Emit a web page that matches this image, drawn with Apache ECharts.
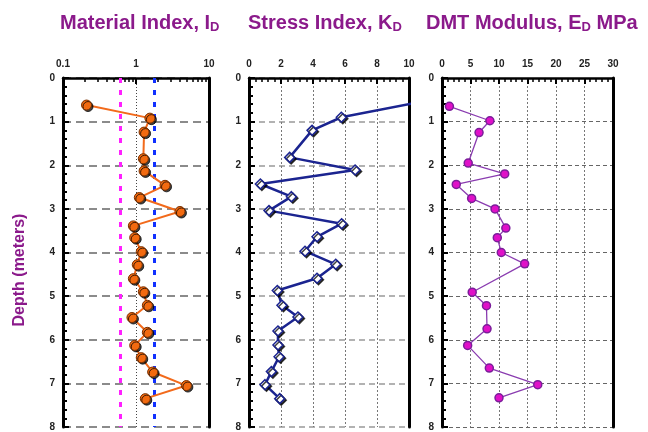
<!DOCTYPE html>
<html><head><meta charset="utf-8">
<script src="https://cdn.jsdelivr.net/npm/echarts@6/dist/echarts.min.js"></script>
<style>html,body{margin:0;padding:0;background:#fff}#c{width:648px;height:432px}</style>
</head><body><div id="c"></div>
<script>
// Material Index I_D
const idDepth = [0.62,0.92,1.24,1.85,2.13,2.46,2.74,3.06,3.39,3.66,3.98,4.28,4.60,4.90,5.21,5.49,5.83,6.13,6.41,6.74,7.05,7.35];
const idVals  = [0.21,1.55,1.29,1.26,1.29,2.5,1.11,4.0,0.92,0.96,1.18,1.04,0.92,1.26,1.43,0.88,1.43,0.96,1.18,1.69,4.9,1.34];
const idRefLines = [0.6, 1.8];
// Stress Index K_D
const kdDepth = [0.58,0.90,1.20,1.82,2.11,2.43,2.72,3.04,3.34,3.64,3.97,4.27,4.59,4.87,5.21,5.48,5.80,6.12,6.39,6.73,7.03,7.35];
const kdVals  = [10.3,5.77,3.94,2.54,6.63,0.71,2.65,1.25,5.79,4.25,3.5,5.42,4.25,1.77,2.06,3.06,1.81,1.81,1.88,1.4,1.0,1.92];
// DMT Modulus E_D (MPa)
const edDepth = [0.65,0.98,1.25,1.95,2.2,2.44,2.76,3.0,3.44,3.66,4.0,4.26,4.91,5.22,5.75,6.13,6.65,7.03,7.33];
const edVals  = [1.3,8.4,6.5,4.6,11.0,2.5,5.2,9.3,11.2,9.7,10.4,14.5,5.3,7.8,7.9,4.5,8.3,16.8,10.0];

const FONT = 'Liberation Sans, Arial, sans-serif';
const PURPLE = '#8B1A8B';
const pair = (xs, ys) => xs.map((v, i) => [v, ys[i]]);

const chart = echarts.init(document.getElementById('c'), null, {renderer: 'canvas'});

const grids = [
  {left: 63, top: 78, width: 146, height: 352},
  {left: 249, top: 78, width: 160, height: 352},
  {left: 442, top: 78, width: 171, height: 352}
];

function xAxisBase(idx, extra) {
  return Object.assign({
    gridIndex: idx, position: 'top',
    axisLine: {show: true, onZero: false, lineStyle: {color: '#000', width: 2.5}},
    axisTick: {show: true, inside: true, length: 6, lineStyle: {color: '#000', width: 2}},
    minorTick: {show: true, splitNumber: 5, length: 4, lineStyle: {color: '#000', width: 1.5}},
    axisLabel: {color: '#222', fontFamily: FONT, fontWeight: 'bold', fontSize: 10, margin: 9},
    splitLine: {show: true, lineStyle: {color: '#777', type: [2, 2], width: 1}}
  }, extra);
}
function yAxisLeft(idx, hSplit) {
  return {
    gridIndex: idx, type: 'value', min: 0, max: 8, interval: 1, inverse: true,
    axisLine: {show: true, onZero: false, lineStyle: {color: '#000', width: 3}},
    axisTick: {show: true, inside: true, length: 6, lineStyle: {color: '#000', width: 2}},
    minorTick: {show: true, splitNumber: 5, length: 4, lineStyle: {color: '#000', width: 2}},
    axisLabel: {color: '#222', fontFamily: FONT, fontWeight: 'bold', fontSize: 10, margin: 8},
    splitLine: {show: true, lineStyle: hSplit}
  };
}
function yAxisRight(idx) {
  return {
    gridIndex: idx, type: 'value', min: 0, max: 8, inverse: true, position: 'right',
    axisLine: {show: true, onZero: false, lineStyle: {color: '#000', width: 3}},
    axisTick: {show: false}, axisLabel: {show: false}, splitLine: {show: false}
  };
}
const titleRich = {
  a: {fontSize: 20, fontWeight: 'bold', color: PURPLE, fontFamily: FONT},
  s: {fontSize: 13, fontWeight: 'bold', color: PURPLE, fontFamily: FONT, padding: [9, 0, 0, 0]}
};

const option = {
  animation: false,
  backgroundColor: '#fff',
  textStyle: {fontFamily: FONT},
  title: [
    {left: 55, top: 7, text: '{a|Material Index, I}{s|D}', textStyle: {rich: titleRich}},
    {left: 243, top: 7, text: '{a|Stress Index, K}{s|D}', textStyle: {rich: titleRich}},
    {left: 421, top: 7, text: '{a|DMT Modulus, E}{s|D}{a| MPa}', textStyle: {rich: titleRich}}
  ],
  graphic: [
    {type: 'text', x: 20, y: 270, rotation: Math.PI / 2,
      style: {text: 'Depth (meters)', fill: PURPLE, font: 'bold 16px ' + FONT, align: 'center', verticalAlign: 'middle'}}
  ],
  grid: grids,
  xAxis: [
    xAxisBase(0, {type: 'log', logBase: 10, min: 0.1, max: 10,
      minorTick: {show: true, splitNumber: 9, length: 4, lineStyle: {color: '#000', width: 1.5}},
      axisLabel: {color: '#222', fontFamily: FONT, fontWeight: 'bold', fontSize: 10, margin: 9,
        formatter: v => String(v)},
      splitLine: {show: true, lineStyle: {color: '#444', type: [1, 2], width: 1}}}),
    xAxisBase(1, {type: 'value', min: 0, max: 10, interval: 2}),
    xAxisBase(2, {type: 'value', min: 0, max: 30, interval: 5})
  ],
  yAxis: [
    yAxisLeft(0, {color: '#666', type: [8, 5], width: 1.5}),
    yAxisLeft(1, {color: '#999', type: [6, 4], width: 1.5}),
    yAxisLeft(2, {color: '#666', type: [4, 3], width: 1}),
    yAxisRight(0), yAxisRight(1), yAxisRight(2)
  ],
  series: [
    {type: 'line', xAxisIndex: 0, yAxisIndex: 0, data: pair(idVals, idDepth),
      symbol: 'circle', symbolSize: 10, z: 5,
      lineStyle: {color: '#F26A1B', width: 2},
      itemStyle: {color: '#F26A10', borderColor: '#7a3000', borderWidth: 1,
        shadowColor: 'rgba(0,0,0,0.75)', shadowOffsetX: 1.5, shadowOffsetY: 1.5, shadowBlur: 0},
      markLine: {silent: true, symbol: 'none', label: {show: false},
        data: [
          {xAxis: idRefLines[0], lineStyle: {color: '#FF20FF', width: 3, type: [5, 7]}},
          {xAxis: idRefLines[1], lineStyle: {color: '#1030FF', width: 3, type: [5, 7]}}
        ]}},
    {type: 'line', xAxisIndex: 1, yAxisIndex: 1, data: pair(kdVals, kdDepth),
      clip: true, symbol: 'diamond', symbolSize: 10, z: 5,
      lineStyle: {color: '#1B2490', width: 2.5},
      itemStyle: {color: '#fff', borderColor: '#1B2490', borderWidth: 1.5,
        shadowColor: 'rgba(0,0,0,0.75)', shadowOffsetX: 1.5, shadowOffsetY: 1.5, shadowBlur: 0}},
    {type: 'line', xAxisIndex: 2, yAxisIndex: 2, data: pair(edVals, edDepth),
      symbol: 'circle', symbolSize: 8, z: 5,
      lineStyle: {color: '#8A3CB0', width: 1.3},
      itemStyle: {color: '#E010C8', borderColor: '#7A1E9A', borderWidth: 1.5}}
  ]
};
chart.setOption(option);
</script></body></html>
